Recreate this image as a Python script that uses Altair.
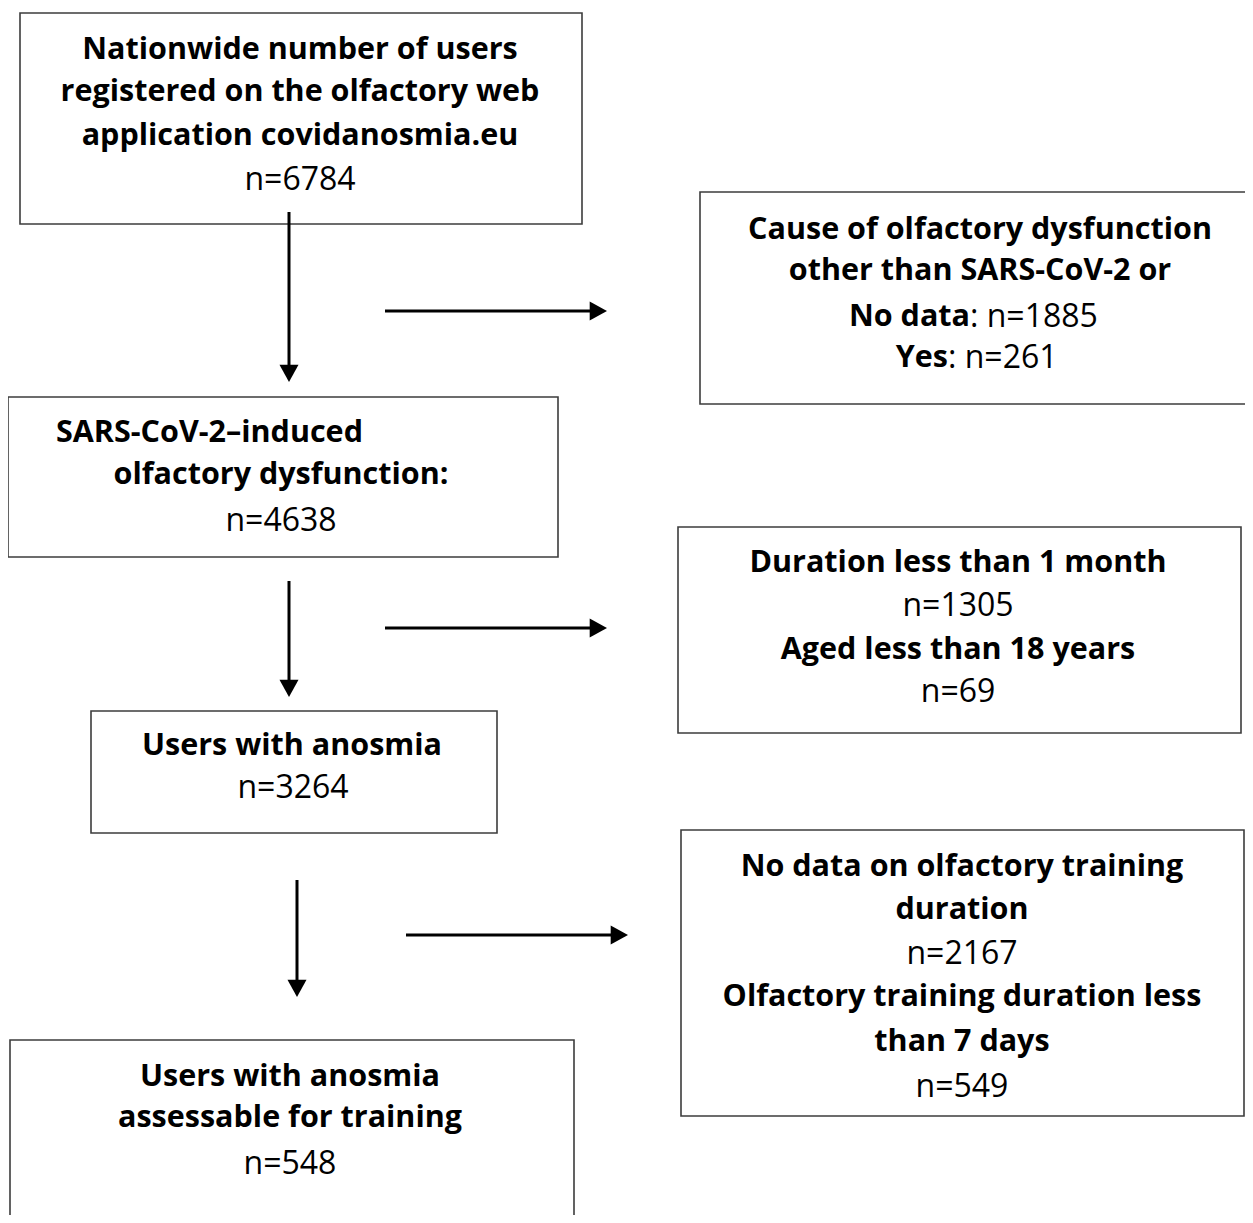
import altair as alt
import pandas as pd

# ---- content ----
counts = [6784, 1885, 261, 4638, 1305, 69, 3264, 2167, 549, 548]
n = ["n=%d" % c for c in counts]

texts = [
    "Nationwide number of users", "registered on the olfactory web",
    "application covidanosmia.eu", n[0],
    "Cause of olfactory dysfunction", "other than SARS-CoV-2 or",
    "No data", ": " + n[1], "Yes", ": " + n[2],
    "SARS-CoV-2\u2013induced", "olfactory dysfunction:", n[3],
    "Duration less than 1 month", n[4], "Aged less than 18 years", n[5],
    "Users with anosmia", n[6],
    "No data on olfactory training", "duration", n[7],
    "Olfactory training duration less", "than 7 days", n[8],
    "Users with anosmia", "assessable for training", n[9],
]
# b = bold, r = regular ; c/l/r = alignment
styles = [
    "bc", "bc", "bc", "rc",
    "bc", "bc",
    "br", "rl", "br", "rl",
    "bl", "bc", "rc",
    "bc", "rc", "bc", "rc",
    "bc", "rc",
    "bc", "bc", "rc",
    "bc", "bc", "rc",
    "bc", "bc", "rc",
]

# ---- layout (pixel coordinates of the page) ----
text_x = [300, 300, 300, 300,
          980, 980,
          970, 970, 948, 948,
          56, 281, 281,
          958, 958, 958, 958,
          292, 293,
          962, 962, 962,
          962, 962, 962,
          290, 290, 290]
text_y = [48, 90, 134, 178,
          228, 269,
          315, 315, 356, 356,
          431, 473, 519,
          561, 604, 648, 690,
          744, 786,
          865, 908, 952,
          995, 1040, 1085,
          1075, 1116, 1162]

box_x0 = [20, 700, 8, 678, 91, 681, 10]
box_x1 = [582, 1262, 558, 1241, 497, 1244, 574]
box_y0 = [13, 192, 397, 527, 711, 830, 1040]
box_y1 = [224, 404, 557, 733, 833, 1116, 1240]

arr_x0 = [289, 385, 289, 385, 297, 406]
arr_y0 = [212, 311, 581, 628, 880, 935]
arr_x1 = [289, 607, 289, 607, 297, 628]
arr_y1 = [382, 311, 697, 628, 997, 935]

W, H = 1237, 1207
FONT = "Open Sans"
FS_BOLD = 30.5
FS_REG = 32

xs = alt.Scale(domain=[8, 8 + W], nice=False, zero=False)
ys = alt.Scale(domain=[8, 8 + H], nice=False, zero=False, reverse=True)

boxes = pd.DataFrame({"x0": box_x0, "x1": box_x1, "y0": box_y0, "y1": box_y1})
rects = alt.Chart(boxes).mark_rect(
    fill="white", stroke="#3c3c3c", strokeWidth=1.6, clip=True
).encode(
    x=alt.X("x0:Q", scale=xs, axis=None), x2="x1:Q",
    y=alt.Y("y0:Q", scale=ys, axis=None), y2="y1:Q",
)

arrows = pd.DataFrame({"x0": arr_x0, "y0": arr_y0, "x1": arr_x1, "y1": arr_y1})
arrows["dir"] = ["down" if a == b else "right" for a, b in zip(arr_x0, arr_x1)]
arrows["lx1"] = [x - 12 if d == "right" else x for x, d in zip(arr_x1, arrows["dir"])]
arrows["ly1"] = [y - 12 if d == "down" else y for y, d in zip(arr_y1, arrows["dir"])]

lines = alt.Chart(arrows).mark_rule(color="black", strokeWidth=3).encode(
    x=alt.X("x0:Q", scale=xs, axis=None), x2="lx1:Q",
    y=alt.Y("y0:Q", scale=ys, axis=None), y2="ly1:Q",
)

head_right = alt.Chart(arrows[arrows["dir"] == "right"]).mark_point(
    shape="M0,0L-2,-1.1L-2,1.1Z", filled=True, color="black", opacity=1, size=300
).encode(
    x=alt.X("x1:Q", scale=xs, axis=None),
    y=alt.Y("y1:Q", scale=ys, axis=None),
)
head_down = alt.Chart(arrows[arrows["dir"] == "down"]).mark_point(
    shape="M0,0L-1.1,-2L1.1,-2Z", filled=True, color="black", opacity=1, size=300
).encode(
    x=alt.X("x1:Q", scale=xs, axis=None),
    y=alt.Y("y1:Q", scale=ys, axis=None),
)

tdf = pd.DataFrame({"text": texts, "style": styles, "x": text_x, "y": text_y})
align_map = {"c": "center", "l": "left", "r": "right"}
text_layers = []
for st in sorted(set(styles)):
    sub = tdf[tdf["style"] == st]
    bold = st[0] == "b"
    text_layers.append(
        alt.Chart(sub).mark_text(
            font=FONT, fontSize=FS_BOLD if bold else FS_REG,
            fontWeight="bold" if bold else "normal",
            align=align_map[st[1]], baseline="middle", color="black", dy=2,
        ).encode(
            x=alt.X("x:Q", scale=xs, axis=None),
            y=alt.Y("y:Q", scale=ys, axis=None),
            text="text:N",
        )
    )

chart = alt.layer(rects, lines, head_right, head_down, *text_layers).properties(
    width=W, height=H, padding=0,
    autosize=alt.AutoSizeParams(type="none"),
).configure(background="white").configure_view(stroke=None, strokeWidth=0)

chart.save("out.html", embed_options={"renderer": "svg", "actions": False})
